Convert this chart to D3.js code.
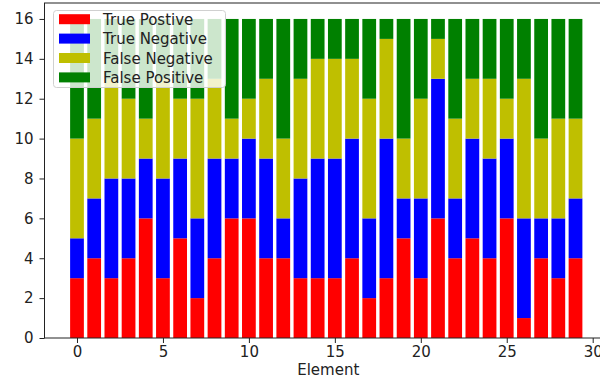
<!DOCTYPE html>
<html><head><meta charset="utf-8">
<script src="https://cdn.jsdelivr.net/npm/d3@7"></script>
<style>body{margin:0;background:#fff}svg{display:block}text{font-family:"DejaVu Sans",sans-serif}</style>
</head><body><svg id="c" width="600" height="378"></svg>
<script>
const elements = d3.range(30);
const truePositive  = [3,4,3,4,6,3,5,2,4,6,6,4,4,3,3,3,4,2,3,5,3,6,4,5,4,6,1,4,3,4];
const trueNegative  = [2,3,5,4,3,5,4,4,5,3,4,5,2,5,6,6,6,4,7,2,4,7,3,5,5,4,5,2,3,3];
const falseNegative = [5,4,5,4,2,5,3,6,4,2,2,4,4,5,5,5,4,6,5,3,5,2,4,3,4,2,7,4,5,4];
const falsePositive = [6,5,3,4,5,3,4,4,3,5,4,3,6,3,2,2,2,4,1,6,4,1,5,3,3,4,3,6,5,5];
const seriesNames = ["True Postive","True Negative","False Negative","False Positive"];
const seriesColors = ["#ff0000","#0000ff","#bfbf00","#008000"];
const yTicks = [0,2,4,6,8,10,12,14,16];
const xTicks = [0,5,10,15,20,25,30];

const svg = d3.select("#c");
const L = 44.5, R = 608, T = 3, B = 338;
const FS = 15;
const x = d3.scaleLinear().domain([-1.89, 30.89]).range([L, R]);
const y = d3.scaleLinear().domain([0, 16.8]).range([B, T]);

const rows = elements.map(i => ({i, v:[truePositive[i], trueNegative[i], falseNegative[i], falsePositive[i]]}));
const stack = d3.stack().keys([0,1,2,3]).value((d,k)=>d.v[k])(rows);

const bw = x(0.8) - x(0);
stack.forEach((layer, k) => {
  svg.append("g").selectAll("rect").data(layer).join("rect")
    .attr("x", d => x(d.data.i - 0.4))
    .attr("width", bw)
    .attr("y", d => y(d[1]))
    .attr("height", d => y(d[0]) - y(d[1]))
    .attr("fill", seriesColors[k]);
});

// axes
const gx = svg.append("g").attr("transform", `translate(0,${B})`)
  .call(d3.axisBottom(x).tickValues(xTicks).tickSize(5).tickPadding(3.5).tickFormat(d3.format("d")));
const gy = svg.append("g").attr("transform", `translate(${L},0)`)
  .call(d3.axisLeft(y).tickValues(yTicks).tickSize(5).tickPadding(6).tickFormat(d3.format("d")));
[gx, gy].forEach(g => {
  g.select(".domain").remove();
  g.selectAll("text").attr("font-size", FS).attr("fill", "#222").attr("font-family", '"DejaVu Sans",sans-serif');
  g.selectAll("line").attr("stroke", "#222");
});
svg.append("rect").attr("x", L).attr("y", T).attr("width", R - L).attr("height", B - T)
  .attr("fill", "none").attr("stroke", "#222").attr("stroke-width", 1);

svg.append("text").attr("x", (L + R) / 2 + 2).attr("y", 375).attr("text-anchor", "middle")
  .attr("font-size", FS).attr("fill", "#222").text("Element");

// legend
const lg = svg.append("g");
lg.append("rect").attr("x", 53.5).attr("y", 10.5).attr("width", 172).attr("height", 77)
  .attr("rx", 3).attr("fill", "rgba(255,255,255,0.8)").attr("stroke", "#d0d0d0");
seriesNames.forEach((n, k) => {
  const base = 24.7 + k * 19.4;
  lg.append("rect").attr("x", 59).attr("y", base - 10.5).attr("width", 31).attr("height", 10).attr("fill", seriesColors[k]);
  lg.append("text").attr("x", 103).attr("y", base).attr("font-size", FS).attr("fill", "#222").text(n);
});
</script></body></html>
